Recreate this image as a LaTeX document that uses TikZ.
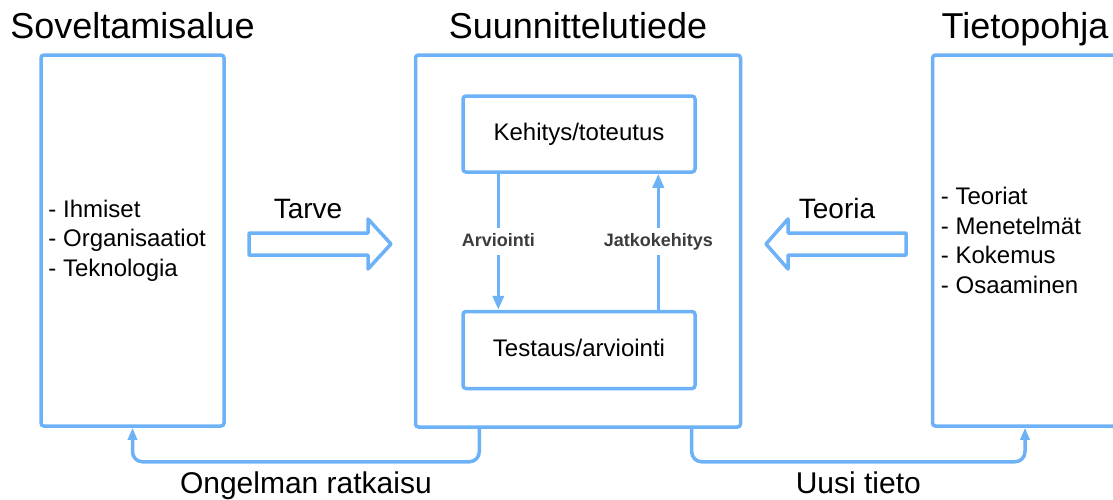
\documentclass[tikz,border=0pt]{standalone}
\usepackage{fontspec}
\setmainfont{Liberation Sans}
\usetikzlibrary{arrows.meta, positioning}

\definecolor{sininen}{RGB}{109,177,246}
\definecolor{tummaharmaa}{RGB}{60,60,60}

\begin{document}
\begin{tikzpicture}[x=1pt, y=-1pt,
    laatikko/.style={draw=sininen, line width=3.5pt, rounded corners=3pt, inner sep=0pt},
    otsikko/.style={font=\fontsize{36}{43}\selectfont, inner sep=0pt},
    lista/.style={font=\fontsize{24}{29.5}\selectfont, align=left, inner sep=0pt},
    selite/.style={font=\fontsize{28}{34}\selectfont, inner sep=0pt, anchor=base},
    alaselite/.style={font=\fontsize{30}{36}\selectfont, inner sep=0pt},
    pieni/.style={font=\bfseries\fontsize{18}{22}\selectfont, text=tummaharmaa, fill=white,
        inner xsep=3pt, inner ysep=5pt, text height=13pt, text depth=4pt},
    yhteys/.style={draw=sininen, line width=3.5pt, rounded corners=10pt,
        -{Triangle[width=9pt, length=12pt]}},
    sisanuoli/.style={draw=sininen, line width=3.5pt, -{Triangle[width=11pt, length=14pt]}},
    lohkonuoli/.style={draw=sininen, line width=3.5pt, line join=round},
]
    \useasboundingbox (0,0) rectangle (1113,499);

    % Laatikot
    \node[laatikko, minimum width=183pt, minimum height=371pt] (sovel) at (132.5,240.5) {};
    \node[laatikko, minimum width=325pt, minimum height=372pt] (suun) at (578,241) {};
    \node[laatikko, minimum width=185pt, minimum height=371pt] (tieto) at (1025,240.5) {};
    \node[laatikko, minimum width=232pt, minimum height=76pt, font=\fontsize{24}{29}\selectfont,
        text height=17pt, text depth=5pt] (kehitys) at (579,134) {Kehitys/toteutus};
    \node[laatikko, minimum width=232pt, minimum height=77pt, font=\fontsize{24}{29}\selectfont,
        text height=17pt, text depth=5pt] (testaus) at (579,350) {Testaus/arviointi};

    % Otsikot
    \node[otsikko, above=15pt of sovel, anchor=base] (sovelotsikko) {Soveltamisalue};
    \node[otsikko, above=15pt of suun, anchor=base] (suunotsikko) {Suunnittelutiede};
    \node[otsikko, above=15pt of tieto, anchor=base] (tieto otsikko) {Tietopohja};

    % Luettelot
    \node[lista, right=9pt of sovel.west] (sovellista) {- Ihmiset\\- Organisaatiot\\- Teknologia};
    \node[lista, right=10pt of tieto.west] (tietolista) {- Teoriat\\- Menetelmät\\- Kokemus\\- Osaaminen};

    % Lohkonuolet
    \draw[lohkonuoli] (249,233) -- (368,233) -- (368,219) -- (391,244) -- (368,269)
        -- (368,255) -- (249,255) -- cycle;
    \draw[lohkonuoli] (906,233) -- (788,233) -- (788,219) -- (766,244) -- (788,269)
        -- (788,255) -- (906,255) -- cycle;
    \node[selite] (tarve) at (308,218) {Tarve};
    \node[selite] (teoria) at (837,218) {Teoria};

    % Sisäiset nuolet
    \draw[sisanuoli] ([xshift=-80.7pt]kehitys.south) -- ([xshift=-80.7pt]testaus.north)
        node[pieni, midway] (arviointi) {Arviointi};
    \draw[sisanuoli] ([xshift=79.3pt]testaus.north) -- ([xshift=79.3pt]kehitys.south)
        node[pieni, midway] (jatko) {Jatkokehitys};

    % Paluuyhteydet
    \draw[yhteys] ([xshift=-98.7pt]suun.south) -- ++(0,33) -| (sovel.south)
        node[alaselite, pos=0.25, below=8pt] (ongelma) {Ongelman ratkaisu};
    \draw[yhteys] ([xshift=113.7pt]suun.south) -- ++(0,33) -| (tieto.south)
        node[alaselite, pos=0.25, below=8pt] (uusitieto) {Uusi tieto};
\end{tikzpicture}
\end{document}
